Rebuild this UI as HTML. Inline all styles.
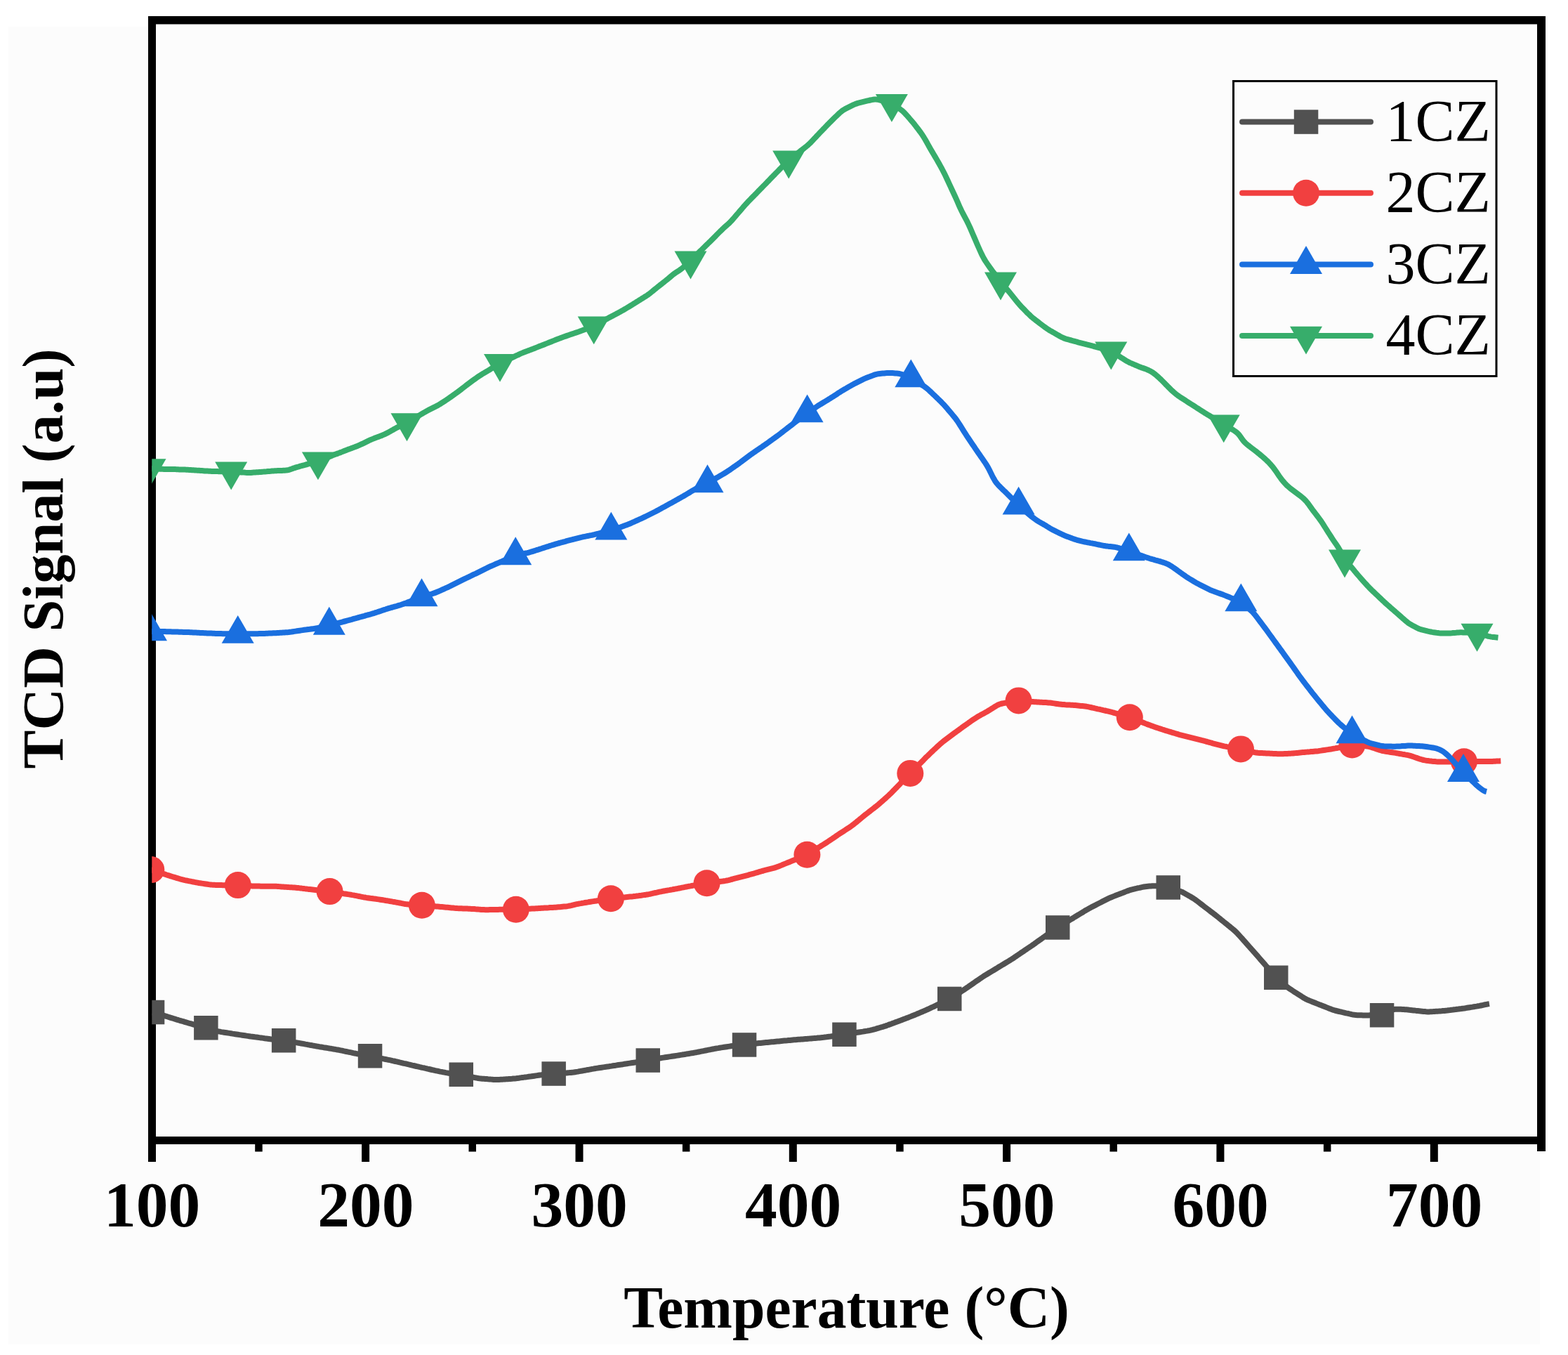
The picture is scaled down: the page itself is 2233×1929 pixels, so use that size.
<!DOCTYPE html><html><head><meta charset="utf-8"><title>TCD Signal vs Temperature</title>
<style>html,body{margin:0;padding:0;background:#fff;}body{width:2233px;height:1929px;overflow:hidden;}svg{display:block;}text{font-family:"Liberation Serif","Times New Roman",serif;}</style></head><body>
<svg width="2233" height="1929" viewBox="0 0 2233 1929">
<rect width="2233" height="1929" fill="#fff"/>
<rect x="12" y="38" width="2181" height="1876" fill="#fcfcfc"/>
<defs><clipPath id="pa"><rect x="216.3" y="29" width="1978.7" height="1595"/></clipPath></defs>
<g fill="#000">
<rect x="211" y="23" width="11" height="1631"/>
<rect x="211" y="23" width="1990" height="11.5"/>
<rect x="2189" y="23" width="12" height="1616"/>
<rect x="211" y="1618" width="1990" height="11"/>
<rect x="515.1" y="1620" width="11" height="34"/>
<rect x="819.5" y="1620" width="11" height="34"/>
<rect x="1123.8" y="1620" width="11" height="34"/>
<rect x="1428.1" y="1620" width="11" height="34"/>
<rect x="1732.4" y="1620" width="11" height="34"/>
<rect x="2036.8" y="1620" width="11" height="34"/>
<rect x="363.2" y="1620" width="10.5" height="19.5"/>
<rect x="667.5" y="1620" width="10.5" height="19.5"/>
<rect x="971.9" y="1620" width="10.5" height="19.5"/>
<rect x="1276.2" y="1620" width="10.5" height="19.5"/>
<rect x="1580.5" y="1620" width="10.5" height="19.5"/>
<rect x="1884.9" y="1620" width="10.5" height="19.5"/>
</g>
<g font-weight="bold" font-size="91.5" text-anchor="middle" fill="#000">
<text transform="translate(216.5 1746.3) scale(1 1)">100</text>
<text transform="translate(520.8 1746.3) scale(1 1)">200</text>
<text transform="translate(825.2 1746.3) scale(1 1)">300</text>
<text transform="translate(1129.5 1746.3) scale(1 1)">400</text>
<text transform="translate(1433.8 1746.3) scale(1 1)">500</text>
<text transform="translate(1738.1 1746.3) scale(1 1)">600</text>
<text transform="translate(2042.5 1746.3) scale(1 1)">700</text>
</g>
<text x="1205.5" y="1889.5" font-weight="bold" font-size="83.6" text-anchor="middle" fill="#000">Temperature (°C)</text>
<text transform="translate(89.2 795.3) rotate(-90)" font-weight="bold" font-size="82.5" text-anchor="middle" fill="#000">TCD Signal (a.u)</text>
<g clip-path="url(#pa)">
<path d="M217 1441.3 L219 1441.7 L221 1442.2 L223 1442.8 L225 1443.4 L227 1443.9 L229 1444.5 L231 1445.1 L233 1445.7 L235 1446.3 L237 1446.9 L239 1447.5 L241 1448.2 L243 1448.8 L245 1449.4 L247 1450 L249 1450.6 L251 1451.3 L253 1451.9 L255 1452.5 L257 1453.1 L259 1453.7 L261 1454.2 L263 1454.8 L265 1455.4 L267 1456 L269 1456.6 L271 1457.1 L273 1457.7 L275 1458.3 L277 1458.9 L279 1459.4 L281 1460 L283 1460.5 L285 1461 L287 1461.6 L289 1462.1 L291 1462.7 L293 1463.2 L295 1463.8 L297 1464.4 L299 1465 L301 1465.6 L303 1466.2 L305 1466.8 L307 1467.4 L309 1467.9 L311 1468.3 L313 1468.7 L315 1469.1 L317 1469.4 L319 1469.7 L321 1470 L323 1470.3 L325 1470.6 L327 1470.9 L329 1471.2 L331 1471.6 L333 1471.9 L335 1472.2 L337 1472.5 L339 1472.8 L341 1473.1 L343 1473.4 L345 1473.7 L347 1474 L349 1474.3 L351 1474.6 L353 1474.9 L355 1475.2 L357 1475.5 L359 1475.7 L361 1476 L363 1476.3 L365 1476.5 L367 1476.8 L369 1477.1 L371 1477.4 L373 1477.6 L375 1477.9 L377 1478.2 L379 1478.4 L381 1478.7 L383 1479 L385 1479.3 L387 1479.5 L389 1479.8 L391 1480 L393 1480.3 L395 1480.5 L397 1480.7 L399 1481 L401 1481.2 L403 1481.5 L405 1481.8 L407 1482 L409 1482.3 L411 1482.6 L413 1482.9 L415 1483.2 L417 1483.5 L419 1483.8 L421 1484.1 L423 1484.4 L425 1484.8 L427 1485.1 L429 1485.5 L431 1485.8 L433 1486.2 L435 1486.6 L437 1486.9 L439 1487.3 L441 1487.7 L443 1488 L445 1488.4 L447 1488.8 L449 1489.1 L451 1489.5 L453 1489.8 L455 1490.2 L457 1490.5 L459 1490.8 L461 1491.2 L463 1491.5 L465 1491.8 L467 1492.1 L469 1492.5 L471 1492.8 L473 1493.1 L475 1493.5 L477 1493.8 L479 1494.2 L481 1494.5 L483 1494.9 L485 1495.3 L487 1495.7 L489 1496.2 L491 1496.6 L493 1497 L495 1497.4 L497 1497.8 L499 1498.2 L501 1498.6 L503 1499.1 L505 1499.5 L507 1499.9 L509 1500.3 L511 1500.6 L513 1501 L515 1501.4 L517 1501.7 L519 1502.1 L521 1502.4 L523 1502.8 L525 1503.2 L527 1503.5 L529 1503.9 L531 1504.3 L533 1504.7 L535 1505.1 L537 1505.6 L539 1506 L541 1506.4 L543 1506.8 L545 1507.2 L547 1507.6 L549 1508 L551 1508.4 L553 1508.8 L555 1509.2 L557 1509.6 L559 1510.1 L561 1510.5 L563 1511 L565 1511.4 L567 1511.9 L569 1512.4 L571 1512.8 L573 1513.3 L575 1513.8 L577 1514.2 L579 1514.7 L581 1515.2 L583 1515.6 L585 1516.1 L587 1516.6 L589 1517 L591 1517.5 L593 1518 L595 1518.4 L597 1518.9 L599 1519.3 L601 1519.8 L603 1520.2 L605 1520.7 L607 1521.1 L609 1521.6 L611 1522 L613 1522.5 L615 1523 L617 1523.4 L619 1523.9 L621 1524.3 L623 1524.7 L625 1525.2 L627 1525.6 L629 1525.9 L631 1526.3 L633 1526.7 L635 1527.1 L637 1527.4 L639 1527.8 L641 1528.1 L643 1528.4 L645 1528.7 L647 1529 L649 1529.3 L651 1529.6 L653 1529.9 L655 1530.2 L657 1530.5 L659 1530.9 L661 1531.3 L663 1531.6 L665 1532 L667 1532.4 L669 1532.8 L671 1533.1 L673 1533.5 L675 1533.9 L677 1534.3 L679 1534.6 L681 1535 L683 1535.3 L685 1535.5 L687 1535.7 L689 1535.8 L691 1536 L693 1536.1 L695 1536.3 L697 1536.4 L699 1536.6 L701 1536.7 L703 1536.9 L705 1537 L707 1537 L709 1537 L711 1536.9 L713 1536.8 L715 1536.7 L717 1536.6 L719 1536.4 L721 1536.3 L723 1536.2 L725 1536 L727 1535.9 L729 1535.8 L731 1535.6 L733 1535.4 L735 1535.2 L737 1534.9 L739 1534.7 L741 1534.4 L743 1534.1 L745 1533.9 L747 1533.6 L749 1533.4 L751 1533.1 L753 1532.8 L755 1532.6 L757 1532.3 L759 1532 L761 1531.7 L763 1531.4 L765 1531.1 L767 1530.8 L769 1530.5 L771 1530.3 L773 1530 L775 1529.9 L777 1529.7 L779 1529.5 L781 1529.3 L783 1529.1 L785 1529 L787 1528.8 L789 1528.6 L791 1528.5 L793 1528.3 L795 1528.2 L797 1528.1 L799 1528 L801 1527.8 L803 1527.7 L805 1527.6 L807 1527.4 L809 1527.2 L811 1527.1 L813 1526.9 L815 1526.7 L817 1526.5 L819 1526.2 L821 1525.9 L823 1525.6 L825 1525.2 L827 1524.8 L829 1524.5 L831 1524.1 L833 1523.8 L835 1523.4 L837 1523 L839 1522.7 L841 1522.3 L843 1521.9 L845 1521.6 L847 1521.2 L849 1520.9 L851 1520.6 L853 1520.3 L855 1520 L857 1519.7 L859 1519.4 L861 1519.1 L863 1518.8 L865 1518.4 L867 1518.2 L869 1517.9 L871 1517.6 L873 1517.2 L875 1516.9 L877 1516.7 L879 1516.3 L881 1516 L883 1515.8 L885 1515.4 L887 1515.2 L889 1514.8 L891 1514.6 L893 1514.2 L895 1513.9 L897 1513.6 L899 1513.3 L901 1513 L903 1512.7 L905 1512.4 L907 1512.1 L909 1511.8 L911 1511.5 L913 1511.2 L915 1510.9 L917 1510.6 L919 1510.2 L921 1509.9 L923 1509.6 L925 1509.2 L927 1508.8 L929 1508.4 L931 1508 L933 1507.7 L935 1507.3 L937 1506.9 L939 1506.5 L941 1506.2 L943 1505.9 L945 1505.6 L947 1505.3 L949 1505 L951 1504.7 L953 1504.4 L955 1504.1 L957 1503.8 L959 1503.5 L961 1503.2 L963 1502.9 L965 1502.6 L967 1502.3 L969 1501.9 L971 1501.6 L973 1501.3 L975 1501 L977 1500.6 L979 1500.3 L981 1500 L983 1499.6 L985 1499.3 L987 1499 L989 1498.6 L991 1498.3 L993 1497.9 L995 1497.5 L997 1497.1 L999 1496.7 L1001 1496.3 L1003 1495.9 L1005 1495.5 L1007 1495.1 L1009 1494.7 L1011 1494.3 L1013 1493.9 L1015 1493.5 L1017 1493.1 L1019 1492.7 L1021 1492.4 L1023 1492.1 L1025 1491.7 L1027 1491.4 L1029 1491.1 L1031 1490.8 L1033 1490.5 L1035 1490.2 L1037 1489.9 L1039 1489.6 L1041 1489.3 L1043 1489.1 L1045 1488.8 L1047 1488.6 L1049 1488.4 L1051 1488.2 L1053 1488.1 L1055 1487.9 L1057 1487.7 L1059 1487.5 L1061 1487.3 L1063 1487.1 L1065 1486.8 L1067 1486.6 L1069 1486.4 L1071 1486.2 L1073 1485.9 L1075 1485.7 L1077 1485.5 L1079 1485.3 L1081 1485.1 L1083 1484.9 L1085 1484.7 L1087 1484.5 L1089 1484.3 L1091 1484.1 L1093 1483.9 L1095 1483.7 L1097 1483.5 L1099 1483.3 L1101 1483.2 L1103 1483 L1105 1482.8 L1107 1482.6 L1109 1482.4 L1111 1482.2 L1113 1482 L1115 1481.8 L1117 1481.6 L1119 1481.4 L1121 1481.3 L1123 1481.1 L1125 1480.9 L1127 1480.7 L1129 1480.5 L1131 1480.3 L1133 1480.2 L1135 1480 L1137 1479.8 L1139 1479.7 L1141 1479.5 L1143 1479.4 L1145 1479.2 L1147 1479 L1149 1478.9 L1151 1478.7 L1153 1478.6 L1155 1478.4 L1157 1478.2 L1159 1478.1 L1161 1477.9 L1163 1477.8 L1165 1477.6 L1167 1477.4 L1169 1477.2 L1171 1477 L1173 1476.8 L1175 1476.5 L1177 1476.3 L1179 1476 L1181 1475.7 L1183 1475.5 L1185 1475.2 L1187 1474.9 L1189 1474.6 L1191 1474.3 L1193 1474 L1195 1473.7 L1197 1473.4 L1199 1473.1 L1201 1472.8 L1203 1472.5 L1205 1472.2 L1207 1471.9 L1209 1471.6 L1211 1471.3 L1213 1471 L1215 1470.7 L1217 1470.4 L1219 1470.1 L1221 1469.8 L1223 1469.5 L1225 1469.2 L1227 1468.9 L1229 1468.6 L1231 1468.2 L1233 1467.9 L1235 1467.6 L1237 1467.2 L1239 1466.9 L1241 1466.4 L1243 1465.9 L1245 1465.3 L1247 1464.8 L1249 1464.2 L1251 1463.6 L1253 1463 L1255 1462.4 L1257 1461.9 L1259 1461.2 L1261 1460.6 L1263 1459.9 L1265 1459.1 L1267 1458.4 L1269 1457.7 L1271 1456.9 L1273 1456.2 L1275 1455.4 L1277 1454.7 L1279 1454 L1281 1453.2 L1283 1452.5 L1285 1451.7 L1287 1450.9 L1289 1450.2 L1291 1449.4 L1293 1448.7 L1295 1447.9 L1297 1447.1 L1299 1446.3 L1301 1445.5 L1303 1444.7 L1305 1443.9 L1307 1443 L1309 1442.2 L1311 1441.3 L1313 1440.5 L1315 1439.6 L1317 1438.8 L1319 1437.9 L1321 1437 L1323 1436.1 L1325 1435.2 L1327 1434.2 L1329 1433.3 L1331 1432.3 L1333 1431.4 L1335 1430.4 L1337 1429.5 L1339 1428.5 L1341 1427.5 L1343 1426.5 L1345 1425.4 L1347 1424.4 L1349 1423.4 L1351 1422.3 L1353 1421.2 L1355 1420.1 L1357 1418.9 L1359 1417.7 L1361 1416.4 L1363 1415.2 L1365 1414 L1367 1412.8 L1369 1411.5 L1371 1410.2 L1373 1408.9 L1375 1407.5 L1377 1406.1 L1379 1404.8 L1381 1403.4 L1383 1402 L1385 1400.6 L1387 1399.2 L1389 1397.8 L1391 1396.4 L1393 1395.1 L1395 1393.7 L1397 1392.3 L1399 1391 L1401 1389.7 L1403 1388.4 L1405 1387.2 L1407 1386 L1409 1384.8 L1411 1383.6 L1413 1382.4 L1415 1381.2 L1417 1380 L1419 1378.8 L1421 1377.5 L1423 1376.3 L1425 1375.1 L1427 1373.9 L1429 1372.7 L1431 1371.5 L1433 1370.3 L1435 1369.1 L1437 1367.9 L1439 1366.6 L1441 1365.4 L1443 1364.1 L1445 1362.7 L1447 1361.4 L1449 1360 L1451 1358.7 L1453 1357.3 L1455 1355.9 L1457 1354.6 L1459 1353.2 L1461 1351.9 L1463 1350.5 L1465 1349.2 L1467 1347.8 L1469 1346.5 L1471 1345.1 L1473 1343.7 L1475 1342.2 L1477 1340.8 L1479 1339.4 L1481 1338 L1483 1336.6 L1485 1335.1 L1487 1333.7 L1489 1332.3 L1491 1330.9 L1493 1329.5 L1495 1328.1 L1497 1326.8 L1499 1325.4 L1501 1324 L1503 1322.6 L1505 1321.3 L1507 1320 L1509 1318.7 L1511 1317.4 L1513 1316.2 L1515 1315 L1517 1313.8 L1519 1312.6 L1521 1311.3 L1523 1310.1 L1525 1308.9 L1527 1307.7 L1529 1306.5 L1531 1305.2 L1533 1304 L1535 1302.8 L1537 1301.6 L1539 1300.4 L1541 1299.2 L1543 1298 L1545 1296.7 L1547 1295.5 L1549 1294.4 L1551 1293.3 L1553 1292.2 L1555 1291.1 L1557 1290.1 L1559 1289.1 L1561 1288.1 L1563 1287 L1565 1286 L1567 1285 L1569 1283.9 L1571 1282.9 L1573 1281.9 L1575 1280.9 L1577 1279.9 L1579 1278.9 L1581 1278 L1583 1277.2 L1585 1276.4 L1587 1275.6 L1589 1274.8 L1591 1274 L1593 1273.3 L1595 1272.5 L1597 1271.7 L1599 1271 L1601 1270.2 L1603 1269.4 L1605 1268.6 L1607 1267.9 L1609 1267.2 L1611 1266.6 L1613 1266.1 L1615 1265.6 L1617 1265.1 L1619 1264.7 L1621 1264.2 L1623 1263.8 L1625 1263.3 L1627 1262.9 L1629 1262.5 L1631 1262.2 L1633 1262 L1635 1261.8 L1637 1261.6 L1639 1261.5 L1641 1261.3 L1643 1261.3 L1645 1261.2 L1647 1261.3 L1649 1261.5 L1651 1261.8 L1653 1262 L1655 1262.3 L1657 1262.5 L1659 1262.8 L1661 1263.1 L1663 1263.4 L1665 1263.9 L1667 1264.4 L1669 1265 L1671 1265.6 L1673 1266.2 L1675 1266.8 L1677 1267.5 L1679 1268.1 L1681 1268.9 L1683 1269.7 L1685 1270.7 L1687 1271.8 L1689 1272.9 L1691 1274.1 L1693 1275.2 L1695 1276.3 L1697 1277.5 L1699 1278.7 L1701 1280 L1703 1281.4 L1705 1282.9 L1707 1284.4 L1709 1286 L1711 1287.5 L1713 1289 L1715 1290.6 L1717 1292.1 L1719 1293.6 L1721 1295.1 L1723 1296.7 L1725 1298.2 L1727 1299.7 L1729 1301.3 L1731 1302.8 L1733 1304.4 L1735 1306 L1737 1307.6 L1739 1309.3 L1741 1310.9 L1743 1312.5 L1745 1314.1 L1747 1315.7 L1749 1317.3 L1751 1318.9 L1753 1320.6 L1755 1322.2 L1757 1323.9 L1759 1325.6 L1761 1327.6 L1763 1329.7 L1765 1331.9 L1767 1334.1 L1769 1336.3 L1771 1338.6 L1773 1340.8 L1775 1343.1 L1777 1345.4 L1779 1347.6 L1781 1349.9 L1783 1352.1 L1785 1354.4 L1787 1356.6 L1789 1358.9 L1791 1361.2 L1793 1363.5 L1795 1365.8 L1797 1368.1 L1799 1370.4 L1801 1372.7 L1803 1375 L1805 1377.4 L1807 1379.8 L1809 1382.2 L1811 1384.5 L1813 1386.9 L1815 1389.2 L1817 1391.3 L1819 1393.2 L1821 1395 L1823 1396.7 L1825 1398.4 L1827 1400.1 L1829 1401.8 L1831 1403.4 L1833 1405 L1835 1406.5 L1837 1407.9 L1839 1409.2 L1841 1410.5 L1843 1411.8 L1845 1413.1 L1847 1414.3 L1849 1415.6 L1851 1416.9 L1853 1418.2 L1855 1419.5 L1857 1420.7 L1859 1421.9 L1861 1422.9 L1863 1423.8 L1865 1424.6 L1867 1425.4 L1869 1426.2 L1871 1427 L1873 1427.8 L1875 1428.6 L1877 1429.4 L1879 1430.2 L1881 1430.9 L1883 1431.7 L1885 1432.5 L1887 1433.3 L1889 1434.1 L1891 1434.9 L1893 1435.7 L1895 1436.4 L1897 1437.2 L1899 1437.9 L1901 1438.5 L1903 1439 L1905 1439.5 L1907 1440 L1909 1440.4 L1911 1440.9 L1913 1441.3 L1915 1441.8 L1917 1442.3 L1919 1442.7 L1921 1443.2 L1923 1443.6 L1925 1444.1 L1927 1444.5 L1929 1444.8 L1931 1445.1 L1933 1445.2 L1935 1445.3 L1937 1445.3 L1939 1445.3 L1941 1445.4 L1943 1445.4 L1945 1445.4 L1947 1445.4 L1949 1445.4 L1951 1445.2 L1953 1445 L1955 1444.8 L1957 1444.5 L1959 1444.2 L1961 1444 L1963 1443.7 L1965 1443.4 L1967 1443 L1969 1442.4 L1971 1441.8 L1973 1441.1 L1975 1440.3 L1977 1439.6 L1979 1438.8 L1981 1438.1 L1983 1437.4 L1985 1437 L1987 1436.8 L1989 1436.7 L1991 1436.7 L1993 1436.8 L1995 1436.8 L1997 1436.9 L1999 1437 L2001 1437.2 L2003 1437.3 L2005 1437.5 L2007 1437.8 L2009 1438 L2011 1438.2 L2013 1438.4 L2015 1438.6 L2017 1438.9 L2019 1439.1 L2021 1439.3 L2023 1439.5 L2025 1439.7 L2027 1439.9 L2029 1440.1 L2031 1440.3 L2033 1440.4 L2035 1440.4 L2037 1440.3 L2039 1440.2 L2041 1440.1 L2043 1439.9 L2045 1439.8 L2047 1439.7 L2049 1439.6 L2051 1439.4 L2053 1439.3 L2055 1439.1 L2057 1438.9 L2059 1438.7 L2061 1438.5 L2063 1438.2 L2065 1438 L2067 1437.7 L2069 1437.5 L2071 1437.2 L2073 1437 L2075 1436.7 L2077 1436.5 L2079 1436.2 L2081 1436 L2083 1435.7 L2085 1435.5 L2087 1435.2 L2089 1434.8 L2091 1434.5 L2093 1434.2 L2095 1433.9 L2097 1433.6 L2099 1433.2 L2101 1432.9 L2103 1432.6 L2105 1432.2 L2107 1431.9 L2109 1431.5 L2111 1431.1 L2113 1430.7 L2115 1430.2 L2117 1429.8 L2119 1429.4 L2121 1429.1" fill="none" stroke="#515151" stroke-width="8" stroke-linejoin="round"/>
<g fill="#515151"><rect x="199.8" y="1423.8" width="34.5" height="34.5"/><rect x="276.1" y="1446" width="34.5" height="34.5"/><rect x="386.9" y="1464" width="34.5" height="34.5"/><rect x="509.8" y="1486" width="34.5" height="34.5"/><rect x="639.5" y="1512.5" width="34.5" height="34.5"/><rect x="771.4" y="1511.3" width="34.5" height="34.5"/><rect x="905.5" y="1492.3" width="34.5" height="34.5"/><rect x="1042.8" y="1470.2" width="34.5" height="34.5"/><rect x="1185.2" y="1455.5" width="34.5" height="34.5"/><rect x="1335" y="1404.7" width="34.5" height="34.5"/><rect x="1489" y="1303.2" width="34.5" height="34.5"/><rect x="1646.5" y="1246.2" width="34.5" height="34.5"/><rect x="1800" y="1374.5" width="34.5" height="34.5"/><rect x="1950.8" y="1428" width="34.5" height="34.5"/></g>
<path d="M215.3 1238.5 L217.3 1238.9 L219.3 1239.5 L221.3 1240.1 L223.3 1240.8 L225.3 1241.4 L227.3 1242.1 L229.3 1242.8 L231.3 1243.5 L233.3 1244.1 L235.3 1244.8 L237.3 1245.5 L239.3 1246.1 L241.3 1246.7 L243.3 1247.4 L245.3 1248 L247.3 1248.6 L249.3 1249.2 L251.3 1249.8 L253.3 1250.4 L255.3 1251 L257.3 1251.6 L259.3 1252.1 L261.3 1252.6 L263.3 1253.1 L265.3 1253.5 L267.3 1253.9 L269.3 1254.3 L271.3 1254.7 L273.3 1255.1 L275.3 1255.5 L277.3 1255.9 L279.3 1256.3 L281.3 1256.6 L283.3 1257 L285.3 1257.3 L287.3 1257.6 L289.3 1257.9 L291.3 1258.2 L293.3 1258.5 L295.3 1258.8 L297.3 1259.1 L299.3 1259.4 L301.3 1259.6 L303.3 1259.7 L305.3 1259.8 L307.3 1259.9 L309.3 1259.9 L311.3 1260 L313.3 1260.1 L315.3 1260.1 L317.3 1260.2 L319.3 1260.2 L321.3 1260.3 L323.3 1260.3 L325.3 1260.4 L327.3 1260.5 L329.3 1260.5 L331.3 1260.6 L333.3 1260.6 L335.3 1260.7 L337.3 1260.8 L339.3 1260.8 L341.3 1260.9 L343.3 1260.9 L345.3 1261 L347.3 1261 L349.3 1261.1 L351.3 1261.1 L353.3 1261.2 L355.3 1261.2 L357.3 1261.3 L359.3 1261.4 L361.3 1261.4 L363.3 1261.5 L365.3 1261.5 L367.3 1261.6 L369.3 1261.6 L371.3 1261.7 L373.3 1261.7 L375.3 1261.7 L377.3 1261.7 L379.3 1261.7 L381.3 1261.7 L383.3 1261.7 L385.3 1261.7 L387.3 1261.7 L389.3 1261.7 L391.3 1261.8 L393.3 1261.8 L395.3 1261.9 L397.3 1262.1 L399.3 1262.2 L401.3 1262.4 L403.3 1262.5 L405.3 1262.7 L407.3 1262.8 L409.3 1262.9 L411.3 1263.1 L413.3 1263.2 L415.3 1263.3 L417.3 1263.4 L419.3 1263.5 L421.3 1263.7 L423.3 1263.9 L425.3 1264.1 L427.3 1264.4 L429.3 1264.6 L431.3 1264.9 L433.3 1265.1 L435.3 1265.4 L437.3 1265.6 L439.3 1265.9 L441.3 1266.1 L443.3 1266.3 L445.3 1266.5 L447.3 1266.7 L449.3 1266.9 L451.3 1267.2 L453.3 1267.4 L455.3 1267.6 L457.3 1267.8 L459.3 1268 L461.3 1268.2 L463.3 1268.4 L465.3 1268.6 L467.3 1268.9 L469.3 1269.1 L471.3 1269.4 L473.3 1269.7 L475.3 1270 L477.3 1270.3 L479.3 1270.6 L481.3 1270.9 L483.3 1271.2 L485.3 1271.5 L487.3 1271.8 L489.3 1272.2 L491.3 1272.5 L493.3 1272.8 L495.3 1273.1 L497.3 1273.4 L499.3 1273.7 L501.3 1274.1 L503.3 1274.4 L505.3 1274.8 L507.3 1275.2 L509.3 1275.6 L511.3 1276 L513.3 1276.4 L515.3 1276.8 L517.3 1277.2 L519.3 1277.5 L521.3 1277.9 L523.3 1278.2 L525.3 1278.5 L527.3 1278.8 L529.3 1279 L531.3 1279.3 L533.3 1279.6 L535.3 1279.8 L537.3 1280.1 L539.3 1280.4 L541.3 1280.7 L543.3 1281 L545.3 1281.3 L547.3 1281.6 L549.3 1282 L551.3 1282.3 L553.3 1282.6 L555.3 1283 L557.3 1283.3 L559.3 1283.7 L561.3 1284 L563.3 1284.4 L565.3 1284.8 L567.3 1285.1 L569.3 1285.5 L571.3 1285.9 L573.3 1286.3 L575.3 1286.7 L577.3 1287 L579.3 1287.2 L581.3 1287.4 L583.3 1287.5 L585.3 1287.7 L587.3 1287.8 L589.3 1288 L591.3 1288.1 L593.3 1288.3 L595.3 1288.4 L597.3 1288.5 L599.3 1288.7 L601.3 1288.8 L603.3 1289 L605.3 1289.2 L607.3 1289.3 L609.3 1289.5 L611.3 1289.7 L613.3 1289.8 L615.3 1290 L617.3 1290.1 L619.3 1290.3 L621.3 1290.5 L623.3 1290.6 L625.3 1290.8 L627.3 1291 L629.3 1291.1 L631.3 1291.3 L633.3 1291.5 L635.3 1291.7 L637.3 1291.8 L639.3 1292 L641.3 1292.2 L643.3 1292.4 L645.3 1292.6 L647.3 1292.8 L649.3 1292.9 L651.3 1293.1 L653.3 1293.2 L655.3 1293.3 L657.3 1293.3 L659.3 1293.4 L661.3 1293.5 L663.3 1293.5 L665.3 1293.6 L667.3 1293.7 L669.3 1293.8 L671.3 1293.9 L673.3 1294 L675.3 1294.1 L677.3 1294.3 L679.3 1294.4 L681.3 1294.6 L683.3 1294.7 L685.3 1294.9 L687.3 1295 L689.3 1295.1 L691.3 1295.2 L693.3 1295.2 L695.3 1295.2 L697.3 1295.1 L699.3 1295.1 L701.3 1295.1 L703.3 1295 L705.3 1295 L707.3 1294.9 L709.3 1294.9 L711.3 1294.8 L713.3 1294.8 L715.3 1294.8 L717.3 1294.8 L719.3 1294.8 L721.3 1294.8 L723.3 1294.8 L725.3 1294.8 L727.3 1294.8 L729.3 1294.8 L731.3 1294.8 L733.3 1294.8 L735.3 1294.7 L737.3 1294.6 L739.3 1294.6 L741.3 1294.5 L743.3 1294.3 L745.3 1294.2 L747.3 1294.1 L749.3 1294 L751.3 1293.9 L753.3 1293.8 L755.3 1293.7 L757.3 1293.6 L759.3 1293.5 L761.3 1293.4 L763.3 1293.3 L765.3 1293.2 L767.3 1293.1 L769.3 1293 L771.3 1292.8 L773.3 1292.7 L775.3 1292.6 L777.3 1292.5 L779.3 1292.4 L781.3 1292.3 L783.3 1292.1 L785.3 1292 L787.3 1291.9 L789.3 1291.8 L791.3 1291.7 L793.3 1291.5 L795.3 1291.3 L797.3 1291.2 L799.3 1291 L801.3 1290.8 L803.3 1290.6 L805.3 1290.4 L807.3 1290.2 L809.3 1289.9 L811.3 1289.5 L813.3 1289.1 L815.3 1288.6 L817.3 1288.1 L819.3 1287.6 L821.3 1287.2 L823.3 1286.8 L825.3 1286.4 L827.3 1286.1 L829.3 1285.7 L831.3 1285.4 L833.3 1285 L835.3 1284.7 L837.3 1284.4 L839.3 1284 L841.3 1283.7 L843.3 1283.4 L845.3 1283.1 L847.3 1282.8 L849.3 1282.5 L851.3 1282.1 L853.3 1281.8 L855.3 1281.5 L857.3 1281.2 L859.3 1280.9 L861.3 1280.6 L863.3 1280.3 L865.3 1280 L867.3 1279.7 L869.3 1279.4 L871.3 1279.2 L873.3 1279 L875.3 1278.8 L877.3 1278.6 L879.3 1278.4 L881.3 1278.2 L883.3 1278 L885.3 1277.8 L887.3 1277.6 L889.3 1277.4 L891.3 1277.2 L893.3 1277 L895.3 1276.8 L897.3 1276.6 L899.3 1276.4 L901.3 1276.2 L903.3 1275.9 L905.3 1275.7 L907.3 1275.4 L909.3 1275.2 L911.3 1274.9 L913.3 1274.7 L915.3 1274.4 L917.3 1274.1 L919.3 1273.9 L921.3 1273.5 L923.3 1273.2 L925.3 1272.8 L927.3 1272.3 L929.3 1271.9 L931.3 1271.4 L933.3 1271 L935.3 1270.6 L937.3 1270.1 L939.3 1269.7 L941.3 1269.3 L943.3 1268.9 L945.3 1268.5 L947.3 1268.1 L949.3 1267.8 L951.3 1267.4 L953.3 1267.1 L955.3 1266.7 L957.3 1266.4 L959.3 1266 L961.3 1265.6 L963.3 1265.3 L965.3 1264.9 L967.3 1264.5 L969.3 1264.1 L971.3 1263.7 L973.3 1263.3 L975.3 1262.9 L977.3 1262.5 L979.3 1262.1 L981.3 1261.7 L983.3 1261.4 L985.3 1261 L987.3 1260.6 L989.3 1260.3 L991.3 1259.9 L993.3 1259.6 L995.3 1259.2 L997.3 1258.9 L999.3 1258.5 L1001.3 1258.1 L1003.3 1257.8 L1005.3 1257.5 L1007.3 1257.2 L1009.3 1256.9 L1011.3 1256.6 L1013.3 1256.4 L1015.3 1256.2 L1017.3 1255.9 L1019.3 1255.7 L1021.3 1255.4 L1023.3 1255.2 L1025.3 1254.9 L1027.3 1254.7 L1029.3 1254.5 L1031.3 1254.2 L1033.3 1253.9 L1035.3 1253.5 L1037.3 1253.1 L1039.3 1252.6 L1041.3 1252 L1043.3 1251.5 L1045.3 1250.9 L1047.3 1250.4 L1049.3 1249.9 L1051.3 1249.3 L1053.3 1248.8 L1055.3 1248.3 L1057.3 1247.8 L1059.3 1247.3 L1061.3 1246.8 L1063.3 1246.3 L1065.3 1245.8 L1067.3 1245.2 L1069.3 1244.7 L1071.3 1244.1 L1073.3 1243.6 L1075.3 1243 L1077.3 1242.4 L1079.3 1241.8 L1081.3 1241.2 L1083.3 1240.6 L1085.3 1240 L1087.3 1239.5 L1089.3 1238.9 L1091.3 1238.4 L1093.3 1237.9 L1095.3 1237.4 L1097.3 1236.9 L1099.3 1236.4 L1101.3 1235.9 L1103.3 1235.3 L1105.3 1234.7 L1107.3 1233.9 L1109.3 1233.2 L1111.3 1232.4 L1113.3 1231.6 L1115.3 1230.7 L1117.3 1229.9 L1119.3 1229.1 L1121.3 1228.3 L1123.3 1227.5 L1125.3 1226.7 L1127.3 1225.8 L1129.3 1225 L1131.3 1224.2 L1133.3 1223.4 L1135.3 1222.5 L1137.3 1221.7 L1139.3 1220.9 L1141.3 1220.1 L1143.3 1219.2 L1145.3 1218.4 L1147.3 1217.5 L1149.3 1216.5 L1151.3 1215.4 L1153.3 1214.2 L1155.3 1213 L1157.3 1211.8 L1159.3 1210.6 L1161.3 1209.3 L1163.3 1208.1 L1165.3 1206.8 L1167.3 1205.6 L1169.3 1204.3 L1171.3 1203.1 L1173.3 1201.9 L1175.3 1200.6 L1177.3 1199.3 L1179.3 1198 L1181.3 1196.7 L1183.3 1195.3 L1185.3 1194 L1187.3 1192.6 L1189.3 1191.3 L1191.3 1189.9 L1193.3 1188.5 L1195.3 1187.2 L1197.3 1185.9 L1199.3 1184.6 L1201.3 1183.3 L1203.3 1182 L1205.3 1180.7 L1207.3 1179.4 L1209.3 1178.1 L1211.3 1176.7 L1213.3 1175.3 L1215.3 1173.8 L1217.3 1172.2 L1219.3 1170.6 L1221.3 1168.9 L1223.3 1167.3 L1225.3 1165.6 L1227.3 1164 L1229.3 1162.3 L1231.3 1160.7 L1233.3 1159.1 L1235.3 1157.6 L1237.3 1156 L1239.3 1154.5 L1241.3 1152.9 L1243.3 1151.4 L1245.3 1149.8 L1247.3 1148.3 L1249.3 1146.7 L1251.3 1145 L1253.3 1143.2 L1255.3 1141.5 L1257.3 1139.7 L1259.3 1138 L1261.3 1136.2 L1263.3 1134.4 L1265.3 1132.6 L1267.3 1130.7 L1269.3 1128.8 L1271.3 1126.7 L1273.3 1124.7 L1275.3 1122.6 L1277.3 1120.6 L1279.3 1118.5 L1281.3 1116.4 L1283.3 1114.3 L1285.3 1112.3 L1287.3 1110.2 L1289.3 1108.1 L1291.3 1106.1 L1293.3 1104 L1295.3 1102 L1297.3 1099.9 L1299.3 1097.9 L1301.3 1095.9 L1303.3 1093.8 L1305.3 1091.8 L1307.3 1089.8 L1309.3 1087.8 L1311.3 1085.8 L1313.3 1083.8 L1315.3 1081.8 L1317.3 1079.7 L1319.3 1077.7 L1321.3 1075.8 L1323.3 1073.8 L1325.3 1071.9 L1327.3 1070 L1329.3 1068.1 L1331.3 1066.3 L1333.3 1064.4 L1335.3 1062.5 L1337.3 1060.7 L1339.3 1058.9 L1341.3 1057.2 L1343.3 1055.5 L1345.3 1054 L1347.3 1052.5 L1349.3 1051 L1351.3 1049.5 L1353.3 1048 L1355.3 1046.5 L1357.3 1045 L1359.3 1043.5 L1361.3 1042.1 L1363.3 1040.6 L1365.3 1039.2 L1367.3 1037.7 L1369.3 1036.3 L1371.3 1034.8 L1373.3 1033.4 L1375.3 1032 L1377.3 1030.6 L1379.3 1029.1 L1381.3 1027.7 L1383.3 1026.3 L1385.3 1024.9 L1387.3 1023.6 L1389.3 1022.3 L1391.3 1021 L1393.3 1019.8 L1395.3 1018.7 L1397.3 1017.6 L1399.3 1016.5 L1401.3 1015.4 L1403.3 1014.3 L1405.3 1013.2 L1407.3 1012 L1409.3 1010.8 L1411.3 1009.5 L1413.3 1008.3 L1415.3 1007 L1417.3 1005.8 L1419.3 1004.6 L1421.3 1003.5 L1423.3 1002.6 L1425.3 1002 L1427.3 1001.5 L1429.3 1001.1 L1431.3 1000.8 L1433.3 1000.4 L1435.3 1000.1 L1437.3 999.7 L1439.3 999.4 L1441.3 999 L1443.3 998.7 L1445.3 998.3 L1447.3 998 L1449.3 997.8 L1451.3 997.7 L1453.3 997.7 L1455.3 997.8 L1457.3 997.9 L1459.3 998.1 L1461.3 998.2 L1463.3 998.4 L1465.3 998.6 L1467.3 998.7 L1469.3 998.9 L1471.3 999 L1473.3 999.2 L1475.3 999.3 L1477.3 999.5 L1479.3 999.6 L1481.3 999.7 L1483.3 999.8 L1485.3 999.9 L1487.3 1000 L1489.3 1000.1 L1491.3 1000.2 L1493.3 1000.4 L1495.3 1000.6 L1497.3 1000.8 L1499.3 1001.1 L1501.3 1001.4 L1503.3 1001.7 L1505.3 1002 L1507.3 1002.3 L1509.3 1002.6 L1511.3 1002.8 L1513.3 1003 L1515.3 1003.1 L1517.3 1003.3 L1519.3 1003.4 L1521.3 1003.5 L1523.3 1003.6 L1525.3 1003.7 L1527.3 1003.8 L1529.3 1003.9 L1531.3 1004.1 L1533.3 1004.3 L1535.3 1004.5 L1537.3 1004.7 L1539.3 1004.9 L1541.3 1005.1 L1543.3 1005.3 L1545.3 1005.5 L1547.3 1005.8 L1549.3 1006.2 L1551.3 1006.6 L1553.3 1007 L1555.3 1007.5 L1557.3 1007.9 L1559.3 1008.4 L1561.3 1008.8 L1563.3 1009.3 L1565.3 1009.7 L1567.3 1010.2 L1569.3 1010.6 L1571.3 1011.1 L1573.3 1011.5 L1575.3 1012 L1577.3 1012.4 L1579.3 1012.9 L1581.3 1013.4 L1583.3 1013.9 L1585.3 1014.5 L1587.3 1015 L1589.3 1015.6 L1591.3 1016.2 L1593.3 1016.8 L1595.3 1017.3 L1597.3 1017.9 L1599.3 1018.5 L1601.3 1019 L1603.3 1019.6 L1605.3 1020.2 L1607.3 1020.8 L1609.3 1021.5 L1611.3 1022.2 L1613.3 1023 L1615.3 1023.8 L1617.3 1024.6 L1619.3 1025.4 L1621.3 1026.2 L1623.3 1027 L1625.3 1027.7 L1627.3 1028.5 L1629.3 1029.3 L1631.3 1030.1 L1633.3 1030.9 L1635.3 1031.6 L1637.3 1032.3 L1639.3 1033.1 L1641.3 1033.8 L1643.3 1034.5 L1645.3 1035.2 L1647.3 1035.9 L1649.3 1036.5 L1651.3 1037.2 L1653.3 1037.8 L1655.3 1038.5 L1657.3 1039.1 L1659.3 1039.8 L1661.3 1040.4 L1663.3 1041 L1665.3 1041.6 L1667.3 1042.2 L1669.3 1042.8 L1671.3 1043.4 L1673.3 1044 L1675.3 1044.6 L1677.3 1045.2 L1679.3 1045.8 L1681.3 1046.3 L1683.3 1046.8 L1685.3 1047.3 L1687.3 1047.8 L1689.3 1048.3 L1691.3 1048.8 L1693.3 1049.3 L1695.3 1049.8 L1697.3 1050.3 L1699.3 1050.8 L1701.3 1051.3 L1703.3 1051.8 L1705.3 1052.3 L1707.3 1052.8 L1709.3 1053.3 L1711.3 1053.9 L1713.3 1054.4 L1715.3 1054.9 L1717.3 1055.5 L1719.3 1056 L1721.3 1056.6 L1723.3 1057.2 L1725.3 1057.7 L1727.3 1058.3 L1729.3 1058.8 L1731.3 1059.3 L1733.3 1059.8 L1735.3 1060.3 L1737.3 1060.8 L1739.3 1061.3 L1741.3 1061.8 L1743.3 1062.3 L1745.3 1062.7 L1747.3 1063.1 L1749.3 1063.4 L1751.3 1063.8 L1753.3 1064.1 L1755.3 1064.4 L1757.3 1064.8 L1759.3 1065.1 L1761.3 1065.5 L1763.3 1065.8 L1765.3 1066.2 L1767.3 1066.6 L1769.3 1067 L1771.3 1067.5 L1773.3 1067.9 L1775.3 1068.4 L1777.3 1068.9 L1779.3 1069.4 L1781.3 1069.9 L1783.3 1070.4 L1785.3 1070.8 L1787.3 1071.2 L1789.3 1071.5 L1791.3 1071.8 L1793.3 1071.9 L1795.3 1072 L1797.3 1072.1 L1799.3 1072.2 L1801.3 1072.3 L1803.3 1072.4 L1805.3 1072.5 L1807.3 1072.6 L1809.3 1072.7 L1811.3 1072.8 L1813.3 1072.9 L1815.3 1073 L1817.3 1073.1 L1819.3 1073.2 L1821.3 1073.2 L1823.3 1073.3 L1825.3 1073.3 L1827.3 1073.2 L1829.3 1073.1 L1831.3 1073 L1833.3 1072.9 L1835.3 1072.8 L1837.3 1072.7 L1839.3 1072.6 L1841.3 1072.4 L1843.3 1072.2 L1845.3 1072.1 L1847.3 1071.9 L1849.3 1071.7 L1851.3 1071.5 L1853.3 1071.3 L1855.3 1071.1 L1857.3 1070.9 L1859.3 1070.7 L1861.3 1070.6 L1863.3 1070.4 L1865.3 1070.3 L1867.3 1070.1 L1869.3 1070 L1871.3 1069.8 L1873.3 1069.6 L1875.3 1069.4 L1877.3 1069.2 L1879.3 1068.9 L1881.3 1068.6 L1883.3 1068.3 L1885.3 1068 L1887.3 1067.7 L1889.3 1067.4 L1891.3 1067.1 L1893.3 1066.8 L1895.3 1066.5 L1897.3 1066.1 L1899.3 1065.7 L1901.3 1065.4 L1903.3 1065 L1905.3 1064.7 L1907.3 1064.3 L1909.3 1063.9 L1911.3 1063.6 L1913.3 1063.2 L1915.3 1062.8 L1917.3 1062.5 L1919.3 1062.1 L1921.3 1061.8 L1923.3 1061.5 L1925.3 1061.3 L1927.3 1061.2 L1929.3 1061.3 L1931.3 1061.4 L1933.3 1061.5 L1935.3 1061.6 L1937.3 1061.7 L1939.3 1061.9 L1941.3 1062 L1943.3 1062.1 L1945.3 1062.3 L1947.3 1062.5 L1949.3 1062.8 L1951.3 1063.3 L1953.3 1063.9 L1955.3 1064.6 L1957.3 1065.2 L1959.3 1065.9 L1961.3 1066.6 L1963.3 1067.3 L1965.3 1067.9 L1967.3 1068.5 L1969.3 1069 L1971.3 1069.4 L1973.3 1069.8 L1975.3 1070.1 L1977.3 1070.4 L1979.3 1070.7 L1981.3 1071 L1983.3 1071.3 L1985.3 1071.6 L1987.3 1071.9 L1989.3 1072.3 L1991.3 1072.6 L1993.3 1073 L1995.3 1073.3 L1997.3 1073.7 L1999.3 1074 L2001.3 1074.4 L2003.3 1074.7 L2005.3 1075.1 L2007.3 1075.6 L2009.3 1076.2 L2011.3 1076.8 L2013.3 1077.5 L2015.3 1078.2 L2017.3 1078.9 L2019.3 1079.6 L2021.3 1080.3 L2023.3 1080.9 L2025.3 1081.5 L2027.3 1082 L2029.3 1082.4 L2031.3 1082.7 L2033.3 1082.9 L2035.3 1083.2 L2037.3 1083.4 L2039.3 1083.7 L2041.3 1083.9 L2043.3 1084.1 L2045.3 1084.3 L2047.3 1084.4 L2049.3 1084.5 L2051.3 1084.5 L2053.3 1084.5 L2055.3 1084.5 L2057.3 1084.5 L2059.3 1084.5 L2061.3 1084.5 L2063.3 1084.5 L2065.3 1084.4 L2067.3 1084.4 L2069.3 1084.4 L2071.3 1084.4 L2073.3 1084.3 L2075.3 1084.3 L2077.3 1084.3 L2079.3 1084.3 L2081.3 1084.2 L2083.3 1084.2 L2085.3 1084.2 L2087.3 1084.2 L2089.3 1084.2 L2091.3 1084.2 L2093.3 1084.2 L2095.3 1084.1 L2097.3 1084.1 L2099.3 1084.1 L2101.3 1084.1 L2103.3 1084.1 L2105.3 1084.1 L2107.3 1084.1 L2109.3 1084.1 L2111.3 1084.1 L2113.3 1084.1 L2115.3 1084.1 L2117.3 1084.1 L2119.3 1084.1 L2121.3 1084.1 L2123.3 1084 L2125.3 1083.9 L2127.3 1083.8 L2129.3 1083.7 L2131.3 1083.6 L2133.3 1083.5 L2135.3 1083.4 L2137.3 1083.3" fill="none" stroke="#F14040" stroke-width="8" stroke-linejoin="round"/>
<g fill="#F14040"><circle cx="215.3" cy="1238.1" r="19"/><circle cx="338.8" cy="1260.1" r="19"/><circle cx="469.6" cy="1269.1" r="19"/><circle cx="600.8" cy="1288.8" r="19"/><circle cx="734.8" cy="1294.8" r="19"/><circle cx="869.9" cy="1279.3" r="19"/><circle cx="1006.6" cy="1257.2" r="19"/><circle cx="1149.4" cy="1216.7" r="19"/><circle cx="1296.3" cy="1100.9" r="19"/><circle cx="1450.6" cy="997.4" r="19"/><circle cx="1608.8" cy="1021.2" r="19"/><circle cx="1767" cy="1066.4" r="19"/><circle cx="1925.5" cy="1060.5" r="19"/><circle cx="2084.9" cy="1084.2" r="19"/></g>
<path d="M215 898.9 L217 898.9 L219 898.9 L221 898.9 L223 899 L225 899 L227 899 L229 899 L231 899 L233 899.1 L235 899.1 L237 899.2 L239 899.2 L241 899.3 L243 899.3 L245 899.4 L247 899.4 L249 899.5 L251 899.5 L253 899.6 L255 899.7 L257 899.7 L259 899.8 L261 899.9 L263 899.9 L265 900 L267 900.1 L269 900.1 L271 900.2 L273 900.3 L275 900.4 L277 900.5 L279 900.6 L281 900.7 L283 900.8 L285 900.9 L287 901 L289 901.1 L291 901.2 L293 901.3 L295 901.4 L297 901.5 L299 901.6 L301 901.6 L303 901.7 L305 901.8 L307 901.9 L309 902 L311 902.1 L313 902.1 L315 902.1 L317 902.2 L319 902.2 L321 902.2 L323 902.3 L325 902.3 L327 902.3 L329 902.4 L331 902.4 L333 902.4 L335 902.4 L337 902.5 L339 902.5 L341 902.5 L343 902.4 L345 902.4 L347 902.4 L349 902.4 L351 902.4 L353 902.3 L355 902.3 L357 902.3 L359 902.3 L361 902.2 L363 902.2 L365 902.2 L367 902.2 L369 902.1 L371 902.1 L373 902 L375 902 L377 901.9 L379 901.8 L381 901.7 L383 901.6 L385 901.5 L387 901.4 L389 901.3 L391 901.3 L393 901.2 L395 901 L397 900.9 L399 900.8 L401 900.7 L403 900.6 L405 900.5 L407 900.3 L409 900.2 L411 900 L413 899.7 L415 899.5 L417 899.2 L419 898.9 L421 898.6 L423 898.3 L425 898 L427 897.7 L429 897.4 L431 897.1 L433 896.8 L435 896.6 L437 896.3 L439 896 L441 895.8 L443 895.5 L445 895.2 L447 895 L449 894.6 L451 894.3 L453 893.9 L455 893.5 L457 893 L459 892.6 L461 892.1 L463 891.7 L465 891.2 L467 890.7 L469 890.2 L471 889.7 L473 889.2 L475 888.7 L477 888.2 L479 887.7 L481 887.1 L483 886.6 L485 886.1 L487 885.6 L489 885 L491 884.5 L493 884 L495 883.4 L497 882.9 L499 882.3 L501 881.8 L503 881.2 L505 880.6 L507 880.1 L509 879.5 L511 879 L513 878.4 L515 877.9 L517 877.3 L519 876.8 L521 876.2 L523 875.7 L525 875.1 L527 874.6 L529 874 L531 873.4 L533 872.8 L535 872.1 L537 871.5 L539 870.8 L541 870.2 L543 869.5 L545 868.8 L547 868.1 L549 867.5 L551 866.8 L553 866.2 L555 865.6 L557 865 L559 864.5 L561 863.9 L563 863.3 L565 862.8 L567 862.2 L569 861.6 L571 861 L573 860.3 L575 859.6 L577 858.9 L579 858.1 L581 857.3 L583 856.6 L585 855.8 L587 855.1 L589 854.3 L591 853.5 L593 852.8 L595 852 L597 851.3 L599 850.5 L601 849.8 L603 849.2 L605 848.5 L607 847.9 L609 847.3 L611 846.7 L613 846.1 L615 845.5 L617 844.8 L619 844.1 L621 843.4 L623 842.5 L625 841.7 L627 840.8 L629 839.9 L631 839 L633 838.1 L635 837.2 L637 836.3 L639 835.3 L641 834.4 L643 833.4 L645 832.4 L647 831.4 L649 830.4 L651 829.4 L653 828.4 L655 827.4 L657 826.4 L659 825.4 L661 824.4 L663 823.5 L665 822.5 L667 821.6 L669 820.6 L671 819.7 L673 818.7 L675 817.7 L677 816.8 L679 815.8 L681 814.8 L683 813.8 L685 812.8 L687 811.8 L689 810.8 L691 809.8 L693 808.9 L695 807.9 L697 806.9 L699 806 L701 805.2 L703 804.3 L705 803.4 L707 802.5 L709 801.7 L711 800.8 L713 799.9 L715 799.1 L717 798.2 L719 797.4 L721 796.5 L723 795.7 L725 794.8 L727 794 L729 793.1 L731 792.3 L733 791.5 L735 790.9 L737 790.3 L739 789.8 L741 789.4 L743 788.9 L745 788.4 L747 788 L749 787.5 L751 787.1 L753 786.6 L755 786 L757 785.4 L759 784.8 L761 784.2 L763 783.5 L765 782.9 L767 782.3 L769 781.6 L771 781 L773 780.3 L775 779.7 L777 779 L779 778.4 L781 777.8 L783 777.1 L785 776.5 L787 775.9 L789 775.3 L791 774.7 L793 774.1 L795 773.5 L797 773 L799 772.4 L801 771.9 L803 771.3 L805 770.8 L807 770.2 L809 769.7 L811 769.2 L813 768.7 L815 768.2 L817 767.6 L819 767.1 L821 766.6 L823 766.1 L825 765.6 L827 765.1 L829 764.7 L831 764.2 L833 763.8 L835 763.4 L837 763 L839 762.6 L841 762.2 L843 761.8 L845 761.3 L847 760.9 L849 760.4 L851 759.9 L853 759.5 L855 759 L857 758.5 L859 758 L861 757.6 L863 757.1 L865 756.6 L867 756.1 L869 755.6 L871 755 L873 754.4 L875 753.7 L877 752.9 L879 752.2 L881 751.5 L883 750.7 L885 750 L887 749.3 L889 748.5 L891 747.8 L893 747.1 L895 746.3 L897 745.5 L899 744.6 L901 743.7 L903 742.8 L905 741.9 L907 741 L909 740.1 L911 739.2 L913 738.3 L915 737.4 L917 736.4 L919 735.5 L921 734.5 L923 733.5 L925 732.5 L927 731.5 L929 730.5 L931 729.5 L933 728.5 L935 727.4 L937 726.4 L939 725.3 L941 724.2 L943 723.1 L945 722 L947 720.9 L949 719.8 L951 718.7 L953 717.6 L955 716.5 L957 715.4 L959 714.3 L961 713.2 L963 712.1 L965 711 L967 709.8 L969 708.7 L971 707.6 L973 706.5 L975 705.3 L977 704.1 L979 702.9 L981 701.7 L983 700.5 L985 699.2 L987 698.1 L989 696.9 L991 695.8 L993 694.8 L995 693.8 L997 692.9 L999 691.9 L1001 691 L1003 690 L1005 689 L1007 688 L1009 687 L1011 685.8 L1013 684.7 L1015 683.5 L1017 682.4 L1019 681.2 L1021 680 L1023 678.9 L1025 677.7 L1027 676.6 L1029 675.4 L1031 674.2 L1033 673 L1035 671.8 L1037 670.4 L1039 669.1 L1041 667.7 L1043 666.3 L1045 664.9 L1047 663.5 L1049 662.1 L1051 660.7 L1053 659.2 L1055 657.8 L1057 656.3 L1059 654.8 L1061 653.3 L1063 651.8 L1065 650.3 L1067 648.8 L1069 647.3 L1071 645.9 L1073 644.5 L1075 643.1 L1077 641.7 L1079 640.4 L1081 639 L1083 637.6 L1085 636.3 L1087 634.9 L1089 633.5 L1091 632.1 L1093 630.7 L1095 629.3 L1097 627.8 L1099 626.4 L1101 624.9 L1103 623.5 L1105 622 L1107 620.6 L1109 619.1 L1111 617.6 L1113 616 L1115 614.5 L1117 612.9 L1119 611.4 L1121 609.8 L1123 608.3 L1125 606.7 L1127 605.2 L1129 603.7 L1131 602.1 L1133 600.6 L1135 599.1 L1137 597.6 L1139 596.1 L1141 594.5 L1143 593 L1145 591.5 L1147 590 L1149 588.5 L1151 587.1 L1153 585.7 L1155 584.4 L1157 583 L1159 581.7 L1161 580.3 L1163 579 L1165 577.7 L1167 576.4 L1169 575.2 L1171 574 L1173 572.8 L1175 571.6 L1177 570.4 L1179 569.2 L1181 567.9 L1183 566.7 L1185 565.4 L1187 564.2 L1189 562.9 L1191 561.6 L1193 560.2 L1195 558.9 L1197 557.7 L1199 556.4 L1201 555.2 L1203 554 L1205 552.9 L1207 551.7 L1209 550.6 L1211 549.4 L1213 548.3 L1215 547.2 L1217 546.1 L1219 545.1 L1221 544.1 L1223 543.1 L1225 542.1 L1227 541.1 L1229 540.1 L1231 539.2 L1233 538.3 L1235 537.5 L1237 536.7 L1239 536 L1241 535.2 L1243 534.5 L1245 533.7 L1247 533.1 L1249 532.6 L1251 532.2 L1253 532 L1255 531.8 L1257 531.6 L1259 531.4 L1261 531.2 L1263 531.1 L1265 531 L1267 531 L1269 531 L1271 531.1 L1273 531.2 L1275 531.4 L1277 531.5 L1279 531.7 L1281 532 L1283 532.6 L1285 533.2 L1287 534 L1289 534.7 L1291 535.5 L1293 536.3 L1295 537.2 L1297 538.1 L1299 539.2 L1301 540.4 L1303 541.7 L1305 542.9 L1307 544.2 L1309 545.5 L1311 546.8 L1313 548.1 L1315 549.4 L1317 550.7 L1319 552.2 L1321 553.8 L1323 555.6 L1325 557.5 L1327 559.4 L1329 561.3 L1331 563.2 L1333 565.1 L1335 567 L1337 569 L1339 570.9 L1341 572.9 L1343 575 L1345 577.1 L1347 579.4 L1349 581.7 L1351 584.1 L1353 586.4 L1355 588.8 L1357 591.2 L1359 593.6 L1361 596.1 L1363 598.9 L1365 601.9 L1367 605 L1369 608.2 L1371 611.4 L1373 614.6 L1375 617.7 L1377 620.8 L1379 623.8 L1381 626.8 L1383 629.7 L1385 632.7 L1387 635.6 L1389 638.6 L1391 641.5 L1393 644.4 L1395 647.3 L1397 650.2 L1399 653 L1401 655.9 L1403 658.9 L1405 662 L1407 665.4 L1409 669.2 L1411 673.2 L1413 677.3 L1415 681.1 L1417 684.6 L1419 687.4 L1421 689.8 L1423 691.9 L1425 693.9 L1427 695.8 L1429 697.8 L1431 699.7 L1433 701.7 L1435 703.6 L1437 705.6 L1439 707.6 L1441 709.6 L1443 711.7 L1445 713.7 L1447 715.7 L1449 717.6 L1451 719.5 L1453 721.4 L1455 723.2 L1457 724.9 L1459 726.7 L1461 728.5 L1463 730.2 L1465 732 L1467 733.7 L1469 735.3 L1471 736.8 L1473 738.3 L1475 739.7 L1477 741.1 L1479 742.4 L1481 743.6 L1483 744.7 L1485 745.8 L1487 747 L1489 748.1 L1491 749.4 L1493 750.6 L1495 751.9 L1497 753.1 L1499 754.2 L1501 755.2 L1503 756.2 L1505 757.2 L1507 758.1 L1509 759.1 L1511 760 L1513 761 L1515 761.9 L1517 762.8 L1519 763.6 L1521 764.3 L1523 765 L1525 765.7 L1527 766.5 L1529 767.2 L1531 767.9 L1533 768.5 L1535 769.2 L1537 769.7 L1539 770.2 L1541 770.7 L1543 771.1 L1545 771.5 L1547 771.9 L1549 772.3 L1551 772.7 L1553 773.1 L1555 773.4 L1557 773.8 L1559 774.2 L1561 774.7 L1563 775.1 L1565 775.5 L1567 775.9 L1569 776.3 L1571 776.7 L1573 777 L1575 777.4 L1577 777.6 L1579 777.9 L1581 778.1 L1583 778.3 L1585 778.5 L1587 778.7 L1589 779.1 L1591 779.5 L1593 780.1 L1595 780.7 L1597 781.4 L1599 782.1 L1601 782.7 L1603 783.4 L1605 784.1 L1607 784.7 L1609 785.4 L1611 786.1 L1613 786.8 L1615 787.5 L1617 788.2 L1619 788.9 L1621 789.5 L1623 790.2 L1625 790.9 L1627 791.6 L1629 792.3 L1631 793 L1633 793.7 L1635 794.3 L1637 795 L1639 795.6 L1641 796.2 L1643 796.7 L1645 797.3 L1647 797.8 L1649 798.4 L1651 799 L1653 799.5 L1655 800.2 L1657 800.8 L1659 801.5 L1661 802.3 L1663 803.2 L1665 804.2 L1667 805.4 L1669 806.7 L1671 808 L1673 809.4 L1675 810.8 L1677 812.3 L1679 813.7 L1681 815.1 L1683 816.6 L1685 818 L1687 819.4 L1689 820.8 L1691 822.1 L1693 823.4 L1695 824.6 L1697 825.8 L1699 827 L1701 828.2 L1703 829.4 L1705 830.5 L1707 831.6 L1709 832.7 L1711 833.7 L1713 834.7 L1715 835.7 L1717 836.7 L1719 837.7 L1721 838.7 L1723 839.7 L1725 840.5 L1727 841.3 L1729 842 L1731 842.8 L1733 843.5 L1735 844.2 L1737 844.9 L1739 845.6 L1741 846.3 L1743 847.1 L1745 847.9 L1747 848.7 L1749 849.5 L1751 850.3 L1753 851.2 L1755 852 L1757 852.8 L1759 853.6 L1761 854.4 L1763 855.3 L1765 856.2 L1767 857.3 L1769 858.7 L1771 860.2 L1773 861.8 L1775 863.5 L1777 865.2 L1779 866.9 L1781 868.7 L1783 870.5 L1785 872.6 L1787 875 L1789 877.5 L1791 880.1 L1793 882.8 L1795 885.5 L1797 888.1 L1799 890.8 L1801 893.5 L1803 896.2 L1805 898.9 L1807 901.7 L1809 904.5 L1811 907.2 L1813 910 L1815 912.8 L1817 915.5 L1819 918.3 L1821 921 L1823 923.8 L1825 926.5 L1827 929.3 L1829 932.1 L1831 934.8 L1833 937.6 L1835 940.3 L1837 943.1 L1839 946 L1841 948.8 L1843 951.6 L1845 954.5 L1847 957.3 L1849 960.2 L1851 963 L1853 965.7 L1855 968.4 L1857 971 L1859 973.6 L1861 976.2 L1863 978.8 L1865 981.4 L1867 984 L1869 986.6 L1871 989.1 L1873 991.6 L1875 994 L1877 996.5 L1879 998.9 L1881 1001.3 L1883 1003.7 L1885 1006.1 L1887 1008.5 L1889 1010.8 L1891 1013.1 L1893 1015.2 L1895 1017.4 L1897 1019.4 L1899 1021.5 L1901 1023.6 L1903 1025.6 L1905 1027.6 L1907 1029.6 L1909 1031.4 L1911 1033.1 L1913 1034.8 L1915 1036.4 L1917 1038 L1919 1039.7 L1921 1041.3 L1923 1042.9 L1925 1044.3 L1927 1045.6 L1929 1046.8 L1931 1047.9 L1933 1048.9 L1935 1050 L1937 1051 L1939 1052.1 L1941 1053.1 L1943 1054.2 L1945 1055.2 L1947 1056.2 L1949 1057.1 L1951 1057.8 L1953 1058.4 L1955 1058.9 L1957 1059.4 L1959 1059.9 L1961 1060.4 L1963 1060.9 L1965 1061.4 L1967 1061.8 L1969 1062.1 L1971 1062.3 L1973 1062.4 L1975 1062.5 L1977 1062.5 L1979 1062.6 L1981 1062.6 L1983 1062.7 L1985 1062.7 L1987 1062.7 L1989 1062.6 L1991 1062.6 L1993 1062.4 L1995 1062.3 L1997 1062.1 L1999 1062 L2001 1061.9 L2003 1061.7 L2005 1061.6 L2007 1061.5 L2009 1061.5 L2011 1061.6 L2013 1061.7 L2015 1061.8 L2017 1061.9 L2019 1062 L2021 1062 L2023 1062.2 L2025 1062.3 L2027 1062.5 L2029 1062.7 L2031 1063 L2033 1063.3 L2035 1063.6 L2037 1063.9 L2039 1064.2 L2041 1064.5 L2043 1064.9 L2045 1065.3 L2047 1066 L2049 1066.7 L2051 1067.6 L2053 1068.6 L2055 1069.8 L2057 1071.2 L2059 1072.9 L2061 1074.6 L2063 1076.5 L2065 1078.5 L2067 1080.6 L2069 1082.7 L2071 1085 L2073 1087.2 L2075 1089.5 L2077 1091.8 L2079 1094 L2081 1096.3 L2083 1098.4 L2085 1100.5 L2087 1102.6 L2089 1104.5 L2091 1106.5 L2093 1108.4 L2095 1110.4 L2097 1112.3 L2099 1114.2 L2101 1116.1 L2103 1118 L2105 1119.7 L2107 1121.4 L2109 1122.9 L2111 1124.4 L2113 1125.6 L2115 1126.5 L2117 1127" fill="none" stroke="#1A6FDF" stroke-width="8" stroke-linejoin="round"/>
<g fill="#1A6FDF"><path d="M215 872.3L238 912.2L192 912.2Z"/><path d="M338.7 875.9L361.7 915.8L315.7 915.8Z"/><path d="M468.8 863.8L491.8 903.7L445.8 903.7Z"/><path d="M600.5 823.3L623.5 863.2L577.5 863.2Z"/><path d="M734.2 764.3L757.2 804.2L711.2 804.2Z"/><path d="M870.3 728.7L893.3 768.6L847.3 768.6Z"/><path d="M1007.5 661.3L1030.5 701.2L984.5 701.2Z"/><path d="M1149.6 561.4L1172.6 601.3L1126.6 601.3Z"/><path d="M1297.3 511.4L1320.3 551.3L1274.3 551.3Z"/><path d="M1450.6 692.7L1473.6 732.6L1427.6 732.6Z"/><path d="M1607.8 758.4L1630.8 798.3L1584.8 798.3Z"/><path d="M1767.3 830.4L1790.3 870.3L1744.3 870.3Z"/><path d="M1925.5 1018.4L1948.5 1058.3L1902.5 1058.3Z"/><path d="M2084 1073.1L2107 1113L2061 1113Z"/></g>
<path d="M213.5 667.1 L215.5 667.1 L217.5 667.2 L219.5 667.3 L221.5 667.4 L223.5 667.5 L225.5 667.6 L227.5 667.7 L229.5 667.8 L231.5 667.8 L233.5 667.9 L235.5 667.9 L237.5 667.9 L239.5 668 L241.5 668 L243.5 668 L245.5 668.1 L247.5 668.1 L249.5 668.1 L251.5 668.2 L253.5 668.3 L255.5 668.4 L257.5 668.4 L259.5 668.5 L261.5 668.6 L263.5 668.6 L265.5 668.7 L267.5 668.8 L269.5 668.9 L271.5 669 L273.5 669.2 L275.5 669.3 L277.5 669.4 L279.5 669.6 L281.5 669.7 L283.5 669.8 L285.5 670 L287.5 670.1 L289.5 670.2 L291.5 670.4 L293.5 670.5 L295.5 670.6 L297.5 670.7 L299.5 670.8 L301.5 670.9 L303.5 671 L305.5 671.1 L307.5 671.1 L309.5 671.1 L311.5 671.2 L313.5 671.2 L315.5 671.3 L317.5 671.3 L319.5 671.3 L321.5 671.4 L323.5 671.4 L325.5 671.4 L327.5 671.5 L329.5 671.6 L331.5 671.7 L333.5 671.8 L335.5 671.9 L337.5 672 L339.5 672.1 L341.5 672.3 L343.5 672.4 L345.5 672.5 L347.5 672.6 L349.5 672.8 L351.5 672.9 L353.5 672.9 L355.5 672.9 L357.5 672.9 L359.5 672.7 L361.5 672.6 L363.5 672.5 L365.5 672.3 L367.5 672.2 L369.5 672 L371.5 671.9 L373.5 671.7 L375.5 671.6 L377.5 671.4 L379.5 671.3 L381.5 671.1 L383.5 670.9 L385.5 670.8 L387.5 670.6 L389.5 670.4 L391.5 670.3 L393.5 670.2 L395.5 670.1 L397.5 670 L399.5 669.9 L401.5 669.9 L403.5 669.8 L405.5 669.7 L407.5 669.6 L409.5 669.3 L411.5 668.8 L413.5 668.2 L415.5 667.5 L417.5 666.7 L419.5 666.1 L421.5 665.4 L423.5 664.8 L425.5 664.3 L427.5 663.7 L429.5 663.2 L431.5 662.6 L433.5 662.1 L435.5 661.5 L437.5 661 L439.5 660.4 L441.5 659.8 L443.5 659.3 L445.5 658.7 L447.5 658.2 L449.5 657.6 L451.5 657 L453.5 656.3 L455.5 655.6 L457.5 654.8 L459.5 654 L461.5 653.2 L463.5 652.4 L465.5 651.6 L467.5 650.8 L469.5 650 L471.5 649.2 L473.5 648.4 L475.5 647.6 L477.5 646.8 L479.5 646.1 L481.5 645.4 L483.5 644.6 L485.5 643.9 L487.5 643.1 L489.5 642.3 L491.5 641.5 L493.5 640.7 L495.5 639.9 L497.5 639.2 L499.5 638.5 L501.5 637.7 L503.5 637 L505.5 636.3 L507.5 635.5 L509.5 634.7 L511.5 633.8 L513.5 632.9 L515.5 632 L517.5 631.1 L519.5 630.1 L521.5 629.1 L523.5 628.1 L525.5 627.1 L527.5 626.2 L529.5 625.4 L531.5 624.6 L533.5 623.8 L535.5 623 L537.5 622.3 L539.5 621.6 L541.5 620.8 L543.5 620.1 L545.5 619.2 L547.5 618.3 L549.5 617.3 L551.5 616.3 L553.5 615.3 L555.5 614.2 L557.5 613.1 L559.5 612 L561.5 610.8 L563.5 609.7 L565.5 608.6 L567.5 607.6 L569.5 606.6 L571.5 605.6 L573.5 604.6 L575.5 603.6 L577.5 602.6 L579.5 601.5 L581.5 600.4 L583.5 599.3 L585.5 598.1 L587.5 596.9 L589.5 595.8 L591.5 594.6 L593.5 593.4 L595.5 592.3 L597.5 591.1 L599.5 589.9 L601.5 588.7 L603.5 587.6 L605.5 586.4 L607.5 585.3 L609.5 584.2 L611.5 583.2 L613.5 582.2 L615.5 581.2 L617.5 580.2 L619.5 579.2 L621.5 578.1 L623.5 577.1 L625.5 575.9 L627.5 574.7 L629.5 573.4 L631.5 572.1 L633.5 570.8 L635.5 569.5 L637.5 568.2 L639.5 566.8 L641.5 565.4 L643.5 564 L645.5 562.5 L647.5 561.1 L649.5 559.6 L651.5 558.2 L653.5 556.7 L655.5 555.2 L657.5 553.7 L659.5 552.1 L661.5 550.6 L663.5 549 L665.5 547.5 L667.5 546 L669.5 544.5 L671.5 543 L673.5 541.5 L675.5 540.1 L677.5 538.7 L679.5 537.3 L681.5 535.9 L683.5 534.6 L685.5 533.3 L687.5 532 L689.5 530.9 L691.5 529.7 L693.5 528.6 L695.5 527.4 L697.5 526.2 L699.5 524.9 L701.5 523.7 L703.5 522.5 L705.5 521.2 L707.5 520 L709.5 518.8 L711.5 517.7 L713.5 516.6 L715.5 515.6 L717.5 514.6 L719.5 513.7 L721.5 512.8 L723.5 511.8 L725.5 510.9 L727.5 509.9 L729.5 509 L731.5 508.1 L733.5 507.1 L735.5 506.2 L737.5 505.3 L739.5 504.3 L741.5 503.4 L743.5 502.6 L745.5 501.8 L747.5 501 L749.5 500.2 L751.5 499.5 L753.5 498.7 L755.5 498 L757.5 497.2 L759.5 496.5 L761.5 495.7 L763.5 494.9 L765.5 494.1 L767.5 493.3 L769.5 492.5 L771.5 491.8 L773.5 491 L775.5 490.2 L777.5 489.4 L779.5 488.6 L781.5 487.8 L783.5 487 L785.5 486.2 L787.5 485.4 L789.5 484.6 L791.5 483.8 L793.5 483 L795.5 482.2 L797.5 481.5 L799.5 480.7 L801.5 480 L803.5 479.3 L805.5 478.6 L807.5 477.9 L809.5 477.2 L811.5 476.5 L813.5 475.8 L815.5 475.2 L817.5 474.5 L819.5 473.8 L821.5 473.2 L823.5 472.5 L825.5 471.8 L827.5 471 L829.5 470.3 L831.5 469.5 L833.5 468.7 L835.5 467.8 L837.5 467 L839.5 466.2 L841.5 465.4 L843.5 464.5 L845.5 463.6 L847.5 462.7 L849.5 461.7 L851.5 460.6 L853.5 459.6 L855.5 458.5 L857.5 457.5 L859.5 456.4 L861.5 455.4 L863.5 454.3 L865.5 453.3 L867.5 452.2 L869.5 451.2 L871.5 450.1 L873.5 449.1 L875.5 448 L877.5 446.9 L879.5 445.9 L881.5 444.8 L883.5 443.7 L885.5 442.6 L887.5 441.5 L889.5 440.3 L891.5 439.1 L893.5 437.9 L895.5 436.7 L897.5 435.5 L899.5 434.3 L901.5 433 L903.5 431.8 L905.5 430.5 L907.5 429.3 L909.5 428 L911.5 426.8 L913.5 425.5 L915.5 424.3 L917.5 423 L919.5 421.8 L921.5 420.5 L923.5 419.1 L925.5 417.6 L927.5 416 L929.5 414.4 L931.5 412.7 L933.5 411.1 L935.5 409.5 L937.5 407.9 L939.5 406.3 L941.5 404.8 L943.5 403.2 L945.5 401.6 L947.5 400 L949.5 398.4 L951.5 396.8 L953.5 395.1 L955.5 393.4 L957.5 391.7 L959.5 390.1 L961.5 388.7 L963.5 387.4 L965.5 386.1 L967.5 384.8 L969.5 383.4 L971.5 381.9 L973.5 380.1 L975.5 378.3 L977.5 376.4 L979.5 374.6 L981.5 372.7 L983.5 370.8 L985.5 368.8 L987.5 366.9 L989.5 365 L991.5 363 L993.5 361.1 L995.5 359.2 L997.5 357.2 L999.5 355.3 L1001.5 353.3 L1003.5 351.4 L1005.5 349.4 L1007.5 347.5 L1009.5 345.5 L1011.5 343.6 L1013.5 341.6 L1015.5 339.6 L1017.5 337.6 L1019.5 335.6 L1021.5 333.5 L1023.5 331.5 L1025.5 329.5 L1027.5 327.6 L1029.5 325.6 L1031.5 323.8 L1033.5 322 L1035.5 320.2 L1037.5 318.5 L1039.5 316.6 L1041.5 314.5 L1043.5 312.3 L1045.5 310 L1047.5 307.7 L1049.5 305.3 L1051.5 303 L1053.5 300.6 L1055.5 298.3 L1057.5 296 L1059.5 293.6 L1061.5 291.4 L1063.5 289.2 L1065.5 287.1 L1067.5 285 L1069.5 282.9 L1071.5 280.9 L1073.5 278.9 L1075.5 276.8 L1077.5 274.8 L1079.5 272.7 L1081.5 270.7 L1083.5 268.6 L1085.5 266.6 L1087.5 264.5 L1089.5 262.5 L1091.5 260.4 L1093.5 258.3 L1095.5 256.3 L1097.5 254.2 L1099.5 252.2 L1101.5 250.1 L1103.5 248.1 L1105.5 246 L1107.5 244 L1109.5 241.9 L1111.5 239.9 L1113.5 237.8 L1115.5 235.8 L1117.5 233.7 L1119.5 231.7 L1121.5 229.8 L1123.5 227.9 L1125.5 226.2 L1127.5 224.6 L1129.5 223 L1131.5 221.5 L1133.5 219.9 L1135.5 218.4 L1137.5 216.9 L1139.5 215.3 L1141.5 213.8 L1143.5 212.2 L1145.5 210.7 L1147.5 209.1 L1149.5 207.5 L1151.5 205.7 L1153.5 203.8 L1155.5 201.8 L1157.5 199.7 L1159.5 197.6 L1161.5 195.5 L1163.5 193.3 L1165.5 191.2 L1167.5 189.1 L1169.5 187 L1171.5 184.9 L1173.5 182.9 L1175.5 180.8 L1177.5 178.7 L1179.5 176.7 L1181.5 174.6 L1183.5 172.6 L1185.5 170.6 L1187.5 168.6 L1189.5 166.7 L1191.5 164.8 L1193.5 162.9 L1195.5 161 L1197.5 159.3 L1199.5 157.7 L1201.5 156.4 L1203.5 155.2 L1205.5 154.2 L1207.5 153.2 L1209.5 152.2 L1211.5 151.2 L1213.5 150.2 L1215.5 149.2 L1217.5 148.3 L1219.5 147.6 L1221.5 146.9 L1223.5 146.4 L1225.5 145.9 L1227.5 145.4 L1229.5 144.9 L1231.5 144.4 L1233.5 143.9 L1235.5 143.4 L1237.5 143 L1239.5 142.5 L1241.5 142.1 L1243.5 141.8 L1245.5 141.5 L1247.5 141.5 L1249.5 141.7 L1251.5 142.1 L1253.5 142.6 L1255.5 143.1 L1257.5 143.7 L1259.5 144.3 L1261.5 144.8 L1263.5 145.4 L1265.5 146 L1267.5 146.7 L1269.5 147.5 L1271.5 148.5 L1273.5 149.7 L1275.5 151 L1277.5 152.4 L1279.5 153.7 L1281.5 155.1 L1283.5 156.6 L1285.5 158.2 L1287.5 160.1 L1289.5 162.2 L1291.5 164.4 L1293.5 166.7 L1295.5 169 L1297.5 171.3 L1299.5 173.6 L1301.5 176 L1303.5 178.6 L1305.5 181.2 L1307.5 183.8 L1309.5 186.5 L1311.5 189.2 L1313.5 192.1 L1315.5 195.2 L1317.5 198.5 L1319.5 202 L1321.5 205.6 L1323.5 209.2 L1325.5 212.7 L1327.5 216.1 L1329.5 219.5 L1331.5 222.9 L1333.5 226.3 L1335.5 229.7 L1337.5 233.3 L1339.5 236.9 L1341.5 240.5 L1343.5 244.3 L1345.5 248.3 L1347.5 252.4 L1349.5 256.7 L1351.5 261.1 L1353.5 265.4 L1355.5 269.7 L1357.5 274 L1359.5 278.3 L1361.5 282.7 L1363.5 287.2 L1365.5 291.8 L1367.5 296.3 L1369.5 300.5 L1371.5 304.4 L1373.5 308.2 L1375.5 311.9 L1377.5 315.7 L1379.5 319.9 L1381.5 324.2 L1383.5 328.8 L1385.5 333.5 L1387.5 338.1 L1389.5 342.8 L1391.5 347.5 L1393.5 352 L1395.5 356.5 L1397.5 360.9 L1399.5 364.9 L1401.5 368.6 L1403.5 371.9 L1405.5 374.9 L1407.5 377.8 L1409.5 380.6 L1411.5 383.4 L1413.5 386.1 L1415.5 388.7 L1417.5 391.3 L1419.5 393.8 L1421.5 396.3 L1423.5 398.9 L1425.5 401.4 L1427.5 403.8 L1429.5 406.3 L1431.5 408.7 L1433.5 411.2 L1435.5 413.6 L1437.5 416.1 L1439.5 418.5 L1441.5 421 L1443.5 423.5 L1445.5 426 L1447.5 428.5 L1449.5 430.9 L1451.5 433.3 L1453.5 435.5 L1455.5 437.7 L1457.5 439.7 L1459.5 441.7 L1461.5 443.8 L1463.5 445.8 L1465.5 447.7 L1467.5 449.7 L1469.5 451.5 L1471.5 453.1 L1473.5 454.7 L1475.5 456.3 L1477.5 457.8 L1479.5 459.3 L1481.5 460.9 L1483.5 462.4 L1485.5 463.9 L1487.5 465.4 L1489.5 466.8 L1491.5 468.2 L1493.5 469.5 L1495.5 470.7 L1497.5 471.8 L1499.5 473 L1501.5 474.1 L1503.5 475.3 L1505.5 476.4 L1507.5 477.5 L1509.5 478.7 L1511.5 479.8 L1513.5 480.7 L1515.5 481.6 L1517.5 482.3 L1519.5 482.9 L1521.5 483.4 L1523.5 484 L1525.5 484.5 L1527.5 485.1 L1529.5 485.6 L1531.5 486.2 L1533.5 486.7 L1535.5 487.3 L1537.5 487.8 L1539.5 488.3 L1541.5 488.8 L1543.5 489.3 L1545.5 489.8 L1547.5 490.4 L1549.5 490.9 L1551.5 491.4 L1553.5 491.9 L1555.5 492.4 L1557.5 493 L1559.5 493.5 L1561.5 494.1 L1563.5 494.6 L1565.5 495.2 L1567.5 495.7 L1569.5 496.3 L1571.5 496.8 L1573.5 497.4 L1575.5 497.9 L1577.5 498.5 L1579.5 499.1 L1581.5 499.9 L1583.5 500.8 L1585.5 501.9 L1587.5 503.2 L1589.5 504.4 L1591.5 505.7 L1593.5 507 L1595.5 508.3 L1597.5 509.6 L1599.5 510.8 L1601.5 512.1 L1603.5 513.4 L1605.5 514.5 L1607.5 515.6 L1609.5 516.6 L1611.5 517.4 L1613.5 518.3 L1615.5 519.1 L1617.5 520 L1619.5 520.8 L1621.5 521.7 L1623.5 522.5 L1625.5 523.3 L1627.5 523.9 L1629.5 524.6 L1631.5 525.3 L1633.5 526.1 L1635.5 527 L1637.5 528 L1639.5 529.1 L1641.5 530.3 L1643.5 531.8 L1645.5 533.3 L1647.5 535 L1649.5 536.8 L1651.5 538.6 L1653.5 540.5 L1655.5 542.5 L1657.5 544.5 L1659.5 546.6 L1661.5 548.6 L1663.5 550.7 L1665.5 552.7 L1667.5 554.7 L1669.5 556.5 L1671.5 558.3 L1673.5 560 L1675.5 561.6 L1677.5 563.1 L1679.5 564.5 L1681.5 565.8 L1683.5 567.1 L1685.5 568.4 L1687.5 569.7 L1689.5 571 L1691.5 572.3 L1693.5 573.6 L1695.5 574.9 L1697.5 576.1 L1699.5 577.4 L1701.5 578.7 L1703.5 580 L1705.5 581.3 L1707.5 582.5 L1709.5 583.8 L1711.5 585.1 L1713.5 586.4 L1715.5 587.7 L1717.5 588.9 L1719.5 590.2 L1721.5 591.3 L1723.5 592.5 L1725.5 593.7 L1727.5 594.8 L1729.5 596 L1731.5 597.2 L1733.5 598.3 L1735.5 599.5 L1737.5 600.7 L1739.5 601.8 L1741.5 603 L1743.5 604.2 L1745.5 605.5 L1747.5 606.7 L1749.5 608 L1751.5 609.2 L1753.5 610.5 L1755.5 611.7 L1757.5 613 L1759.5 614.3 L1761.5 615.9 L1763.5 617.8 L1765.5 620.3 L1767.5 623.1 L1769.5 626 L1771.5 628.5 L1773.5 630.6 L1775.5 632.4 L1777.5 634 L1779.5 635.5 L1781.5 637.1 L1783.5 638.6 L1785.5 640.1 L1787.5 641.6 L1789.5 643.2 L1791.5 644.8 L1793.5 646.4 L1795.5 648.1 L1797.5 649.8 L1799.5 651.5 L1801.5 653.3 L1803.5 655.1 L1805.5 657 L1807.5 659.1 L1809.5 661.3 L1811.5 663.6 L1813.5 666.1 L1815.5 668.7 L1817.5 671.6 L1819.5 674.5 L1821.5 677.5 L1823.5 680.3 L1825.5 683 L1827.5 685.4 L1829.5 687.7 L1831.5 689.8 L1833.5 691.8 L1835.5 693.5 L1837.5 695.2 L1839.5 696.7 L1841.5 698.2 L1843.5 699.7 L1845.5 701.2 L1847.5 702.7 L1849.5 704.2 L1851.5 705.7 L1853.5 707.3 L1855.5 709 L1857.5 710.8 L1859.5 712.8 L1861.5 715.2 L1863.5 717.8 L1865.5 720.6 L1867.5 723.4 L1869.5 726.2 L1871.5 728.8 L1873.5 731.4 L1875.5 734 L1877.5 736.6 L1879.5 739.3 L1881.5 742.1 L1883.5 745.2 L1885.5 748.3 L1887.5 751.5 L1889.5 754.7 L1891.5 757.8 L1893.5 760.9 L1895.5 764 L1897.5 767.1 L1899.5 770.1 L1901.5 773 L1903.5 775.8 L1905.5 778.9 L1907.5 782.2 L1909.5 785.7 L1911.5 789.2 L1913.5 792.7 L1915.5 795.8 L1917.5 798.6 L1919.5 801.2 L1921.5 803.7 L1923.5 806.2 L1925.5 808.6 L1927.5 811 L1929.5 813.5 L1931.5 815.8 L1933.5 818.2 L1935.5 820.5 L1937.5 822.8 L1939.5 825.1 L1941.5 827.4 L1943.5 829.6 L1945.5 831.8 L1947.5 834 L1949.5 836.1 L1951.5 838.1 L1953.5 840.1 L1955.5 842 L1957.5 843.9 L1959.5 845.8 L1961.5 847.7 L1963.5 849.6 L1965.5 851.5 L1967.5 853.4 L1969.5 855.3 L1971.5 857.1 L1973.5 859 L1975.5 860.8 L1977.5 862.5 L1979.5 864.3 L1981.5 866.1 L1983.5 867.8 L1985.5 869.5 L1987.5 871.3 L1989.5 873 L1991.5 874.7 L1993.5 876.5 L1995.5 878.3 L1997.5 880.1 L1999.5 881.8 L2001.5 883.6 L2003.5 885.2 L2005.5 886.8 L2007.5 888.1 L2009.5 889.3 L2011.5 890.4 L2013.5 891.5 L2015.5 892.6 L2017.5 893.7 L2019.5 894.6 L2021.5 895.5 L2023.5 896.1 L2025.5 896.7 L2027.5 897.2 L2029.5 897.7 L2031.5 898.2 L2033.5 898.7 L2035.5 899.1 L2037.5 899.5 L2039.5 899.9 L2041.5 900.2 L2043.5 900.5 L2045.5 900.8 L2047.5 901 L2049.5 901.3 L2051.5 901.5 L2053.5 901.6 L2055.5 901.6 L2057.5 901.6 L2059.5 901.5 L2061.5 901.5 L2063.5 901.5 L2065.5 901.4 L2067.5 901.3 L2069.5 901.1 L2071.5 900.9 L2073.5 900.8 L2075.5 900.6 L2077.5 900.4 L2079.5 900.3 L2081.5 900.3 L2083.5 900.4 L2085.5 900.4 L2087.5 900.5 L2089.5 900.6 L2091.5 900.7 L2093.5 900.7 L2095.5 900.8 L2097.5 900.9 L2099.5 901 L2101.5 901.1 L2103.5 901.4 L2105.5 901.8 L2107.5 902.3 L2109.5 902.9 L2111.5 903.5 L2113.5 904.1 L2115.5 904.7 L2117.5 905.2 L2119.5 905.8 L2121.5 906.2 L2123.5 906.6 L2125.5 906.9 L2127.5 907.1 L2129.5 907.3 L2131.5 907.5 L2133.5 907.7" fill="none" stroke="#37AD6B" stroke-width="8" stroke-linejoin="round"/>
<g fill="#37AD6B"><path d="M190.5 653.2L236.5 653.2L213.5 693.1Z"/><path d="M306.2 657.6L352.2 657.6L329.2 697.5Z"/><path d="M429.9 643.4L475.9 643.4L452.9 683.3Z"/><path d="M556.5 588.3L602.5 588.3L579.5 628.2Z"/><path d="M689 503.9L735 503.9L712 543.8Z"/><path d="M822.7 450.4L868.7 450.4L845.7 490.3Z"/><path d="M960.5 357.5L1006.5 357.5L983.5 397.4Z"/><path d="M1100.2 214.6L1146.2 214.6L1123.2 254.5Z"/><path d="M1246.9 133.9L1292.9 133.9L1269.9 173.8Z"/><path d="M1402 387.5L1448 387.5L1425 427.4Z"/><path d="M1559.3 486.5L1605.3 486.5L1582.3 526.4Z"/><path d="M1719.7 590.4L1765.7 590.4L1742.7 630.3Z"/><path d="M1892 782.5L1938 782.5L1915 822.4Z"/><path d="M2080.5 887.8L2126.5 887.8L2103.5 927.7Z"/></g>
</g>
<rect x="1756.5" y="115.5" width="374.5" height="420" fill="none" stroke="#000" stroke-width="3"/>
<line x1="1769" y1="173.6" x2="1952" y2="173.6" stroke="#515151" stroke-width="8" stroke-linecap="round"/>
<g fill="#515151"><rect x="1842.8" y="156.3" width="34.5" height="34.5"/></g>
<line x1="1769" y1="274.7" x2="1952" y2="274.7" stroke="#F14040" stroke-width="8" stroke-linecap="round"/>
<g fill="#F14040"><circle cx="1860" cy="274.7" r="19"/></g>
<line x1="1769" y1="376.6" x2="1952" y2="376.6" stroke="#1A6FDF" stroke-width="8" stroke-linecap="round"/>
<g fill="#1A6FDF"><path d="M1860 350L1883 389.9L1837 389.9Z"/></g>
<line x1="1769" y1="478" x2="1952" y2="478" stroke="#37AD6B" stroke-width="8" stroke-linecap="round"/>
<g fill="#37AD6B"><path d="M1837 464.7L1883 464.7L1860 504.6Z"/></g>
<g font-size="84" fill="#000">
<text x="1973.5" y="200.9">1CZ</text>
<text x="1973.5" y="302.4">2CZ</text>
<text x="1973.5" y="403.9">3CZ</text>
<text x="1973.5" y="505.4">4CZ</text>
</g>
</svg></body></html>
